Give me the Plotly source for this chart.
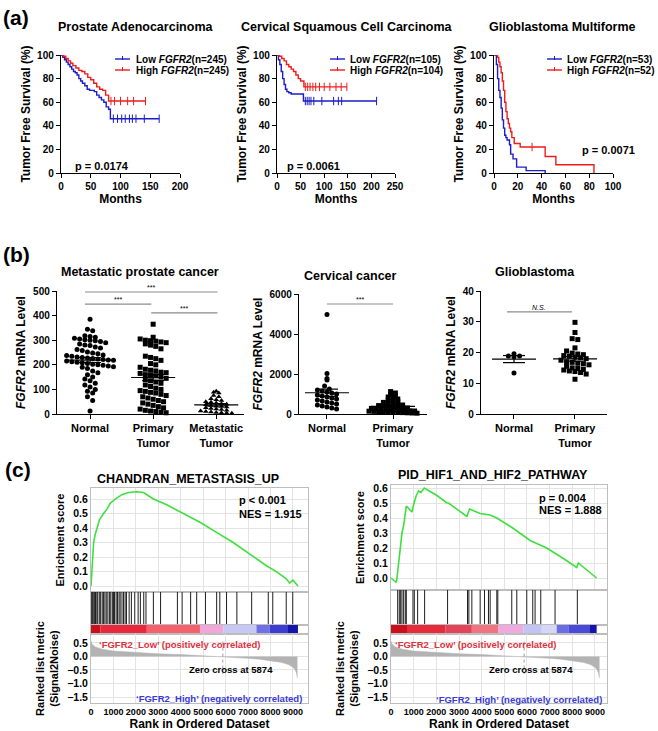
import numpy as np
import plotly.graph_objects as go

W, H = 658, 731
FONT = "Liberation Sans, Arial, Helvetica, sans-serif"
BLUE = "#1c1cc8"
RED = "#ee1c1c"

# ---------------- (a) Kaplan-Meier data ----------------
km_titles = ["Prostate Adenocarcinoma", "Cervical Squamous Cell Carcinoma", "Glioblastoma Multiforme"]
km_pvalues = ["p = 0.0174", "p = 0.0061", "p = 0.0071"]
km_low_n = [245, 105, 53]
km_high_n = [245, 104, 52]

prad_low_t = [0, 3, 6, 9, 12, 15, 18, 21, 24, 27, 30, 33, 36, 40, 44, 48, 52, 56, 60, 64, 68, 72, 76, 80, 83, 165]
prad_low_s = [100, 98, 96, 94, 92, 90, 88, 86, 85, 83, 80, 78, 76, 74, 71, 70, 70, 69, 66, 64, 62, 60, 56, 54, 46, 46]
prad_low_cens = [88, 95, 102, 108, 115, 120, 126, 140, 165]
prad_high_t = [0, 4, 8, 12, 16, 20, 25, 30, 35, 40, 45, 50, 55, 60, 65, 70, 75, 80, 142]
prad_high_s = [100, 99, 97, 95, 93, 91, 89, 87, 86, 84, 81, 79, 76, 73, 71, 70, 66, 61, 61]
prad_high_cens = [84, 90, 100, 112, 122, 142]

cesc_low_t = [0, 3, 6, 9, 12, 15, 18, 21, 25, 30, 40, 56, 211]
cesc_low_s = [100, 96, 92, 86, 80, 75, 71, 69, 68, 67, 67, 61, 61]
cesc_low_cens = [60, 64, 68, 72, 78, 95, 120, 130, 137, 211]
cesc_high_t = [0, 5, 10, 15, 20, 25, 30, 35, 40, 45, 50, 57, 148]
cesc_high_s = [100, 99, 97, 95, 92, 90, 88, 86, 83, 80, 78, 73, 73]
cesc_high_cens = [60, 65, 70, 76, 82, 90, 100, 112, 125, 136, 148]

gbm_low_t = [0, 2, 3, 4, 5, 6, 7, 8, 9, 10, 11, 13, 14, 16, 19, 27, 43]
gbm_low_s = [100, 92, 80, 70, 64, 55, 45, 38, 32, 30, 28, 24, 16, 12, 5, 2, 0]
gbm_low_cens = []
gbm_high_t = [0, 3, 4, 5, 6, 7, 8, 9, 10, 11, 12, 13, 14, 15, 17, 22, 43, 52, 84]
gbm_high_s = [100, 98, 94, 90, 85, 78, 70, 60, 52, 46, 42, 38, 35, 30, 25, 22, 14, 7, 0]
gbm_high_cens = [32]

# ---------------- (b) mRNA scatter data ----------------
prost_normal = [385, 345, 338, 318, 315, 312, 308, 305, 302, 300, 298, 295, 290, 285, 280, 278, 272, 268, 262, 258,
                252, 248, 245, 240, 238, 235, 232, 230, 228, 226, 224, 222, 220, 218, 215, 212, 210, 208, 205, 202,
                200, 198, 195, 192, 190, 185, 175, 168, 160, 150, 142, 135, 125, 118, 110, 100, 92, 85, 70, 55, 12]
prost_primary = [365, 312, 305, 300, 298, 296, 293, 290, 285, 280, 275, 265, 235, 230, 225, 218, 205, 200, 190, 182,
                 178, 175, 170, 168, 165, 160, 158, 155, 150, 145, 140, 135, 130, 125, 118, 112, 105, 100, 95, 92,
                 88, 85, 80, 75, 70, 65, 60, 55, 50, 45, 40, 35, 30, 25, 20, 15, 12, 10, 8, 5]
prost_metastatic = [92, 88, 85, 75, 70, 62, 58, 55, 50, 48, 45, 42, 40, 38, 35, 32, 30, 28, 25, 22,
                    20, 18, 15, 12, 10, 8, 6, 5, 4, 3]
cerv_normal = [4980, 2020, 1780, 1700, 1400, 1250, 1200, 1150, 1100, 1050, 1000, 950, 900, 850, 800, 750, 700,
               650, 600, 550, 500, 450, 400, 350, 300, 250]
cerv_primary = [1120, 1050, 980, 900, 850, 800, 750, 700, 650, 620, 580, 550, 520, 480, 450, 420, 400, 380, 360,
                340, 320, 300, 280, 260, 240, 220, 200, 190, 180, 170, 160, 150, 140, 130, 120, 110, 100, 90, 80,
                70, 60, 50, 40]
glio_normal = [19.6, 18.9, 18.6, 18.9, 13.3]
glio_primary = [29.8, 26.5, 24.5, 24.2, 21.5, 20.5, 19.8, 19.5, 19.3, 19.0, 18.8, 18.5, 18.3, 18.0, 17.5, 17.0,
                16.8, 16.5, 16.3, 16.0, 15.5, 15.0, 14.8, 14.5, 14.3, 14.0, 13.8, 13.5, 13.0, 11.3]

# ---------------- (c) GSEA data ----------------
gsea_titles = ["CHANDRAN_METASTASIS_UP", "PID_HIF1_AND_HIF2_PATHWAY"]
gsea_p = ["p < 0.001", "p = 0.004"]
gsea_nes = ["NES = 1.915", "NES = 1.888"]
chan_rank = [0, 30, 59, 118, 178, 266, 385, 562, 710, 858, 1080, 1377, 1673, 2043, 2339, 2783, 3375, 4115, 4855,
             5595, 6336, 7076, 7816, 8260, 8704, 8852, 9000, 9222]
chan_es = [0, 0.08, 0.2, 0.3, 0.35, 0.4, 0.46, 0.5, 0.53, 0.57, 0.6, 0.63, 0.645, 0.65, 0.645, 0.6, 0.56, 0.5, 0.44,
           0.37, 0.3, 0.22, 0.14, 0.1, 0.05, 0.02, 0.04, 0.0]
chan_hits = [15, 60, 100, 150, 200, 260, 300, 370, 430, 500, 560, 620, 680, 750, 820, 880, 950, 1000, 1050, 1120,
             1180, 1250, 1300, 1380, 1450, 1520, 1580, 1700, 1800, 1950, 2100, 2200, 2350, 2450, 2780, 3100, 3850,
             4060, 4440, 4710, 5100, 5600, 5740, 6040, 6500, 7160, 7900, 8100, 8700, 8990]
chan_bar_edges = [0, 414, 2487, 4855, 5891, 7372, 7964, 8778, 9222]
chan_bar_colors = ["#c8101c", "#e8283c", "#f4606c", "#f0a8d8", "#c8c8f4", "#7070e4", "#3c3cd0", "#1414a8"]

hif_rank = [0, 235, 264, 294, 338, 411, 484, 558, 675, 925, 998, 1116, 1219, 1321, 1468, 2026, 2467, 2540, 3347,
            3465, 3935, 4375, 4669, 5403, 6137, 6871, 7605, 8192, 8266, 9073]
hif_es = [0.0, -0.03, 0.0, 0.05, 0.12, 0.2, 0.3, 0.35, 0.48, 0.44, 0.49, 0.55, 0.58, 0.57, 0.6, 0.55, 0.5, 0.5,
          0.41, 0.46, 0.43, 0.42, 0.4, 0.33, 0.25, 0.2, 0.13, 0.07, 0.1, 0.0]
hif_hits = [294, 367, 426, 484, 558, 631, 675, 969, 1028, 1175, 1483, 2496, 3376, 3435, 3567, 3934, 4125, 4301,
            4375, 4669, 4713, 5329, 5550, 5990, 6254, 6357, 6607, 7238, 8221]
hif_bar_edges = [0, 705, 2393, 3567, 4742, 5843, 6651, 7311, 7825, 8779, 9073]
hif_bar_colors = ["#c8101c", "#e62c3c", "#e44458", "#f07480", "#eeaadc", "#c4c4f4", "#d6d6f8", "#6c6ce4",
                  "#4a4ad8", "#1414a8"]

metric_rank = [0, 50, 200, 500, 1000, 1500, 2000, 3000, 4000, 5000, 5874, 6500, 7000, 7500, 8000, 8500, 8800,
               9000, 9100, 9150, 9200]
metric_val = [0.58, 0.45, 0.35, 0.27, 0.2, 0.17, 0.14, 0.1, 0.07, 0.03, 0.0, -0.04, -0.07, -0.1, -0.15, -0.22,
              -0.3, -0.4, -0.5, -0.6, -0.8]
zero_cross = 5874

# ====================================================================
fig = go.Figure()
layout = {}


def refs(n):
    return ("x" if n == 1 else f"x{n}"), ("y" if n == 1 else f"y{n}")


def set_axes(n, xd, yd, xr, yr, xkw, ykw):
    xr_, yr_ = refs(n)
    xn = "xaxis" if n == 1 else f"xaxis{n}"
    yn = "yaxis" if n == 1 else f"yaxis{n}"
    layout[xn] = dict(domain=[xd[0] / W, xd[1] / W], range=xr, anchor=yr_, automargin=False, tickangle=0, **xkw)
    layout[yn] = dict(domain=[1 - yd[1] / H, 1 - yd[0] / H], range=yr, anchor=xr_, automargin=False, **ykw)


def bfont(size, color="black"):
    return dict(family=FONT, size=size, color=color, weight="bold")


annotations = []
shapes = []


def ann(x, y, text, size, xanchor="center", yanchor="middle", color="black", xref="paper", yref="paper",
        angle=0, bold=True):
    if xref == "paper":
        x = x / W
    if yref == "paper":
        y = 1 - y / H
    annotations.append(dict(x=x, y=y, xref=xref, yref=yref, text=text, showarrow=False,
                            xanchor=xanchor, yanchor=yanchor, textangle=angle,
                            font=bfont(size, color) if bold else dict(family=FONT, size=size, color=color)))


axis_black = dict(showline=True, linecolor="black", linewidth=1.4, ticks="outside", ticklen=4, tickwidth=1.4,
                  tickcolor="black", showgrid=False, zeroline=False, tickfont=bfont(10))

# ---------------- (a) ----------------
km_sets = [
    (prad_low_t, prad_low_s, prad_low_cens, prad_high_t, prad_high_s, prad_high_cens),
    (cesc_low_t, cesc_low_s, cesc_low_cens, cesc_high_t, cesc_high_s, cesc_high_cens),
    (gbm_low_t, gbm_low_s, gbm_low_cens, gbm_high_t, gbm_high_s, gbm_high_cens),
]
km_xdom = [(61, 180), (277, 395), (494, 613)]
km_xrange = [[0, 200], [0, 250], [0, 100]]
km_dtick = [50, 50, 20]
km_title_x = [135, 347, 562]
km_leg = [(115, 134), (330, 348), (547, 565)]
km_p_pos = [(73, 166, "left"), (285, 166, "left"), (580, 150, "left")]


def surv_at(t, s, c):
    t = np.asarray(t)
    i = np.searchsorted(t, c, side="right") - 1
    return s[i]


for k in range(3):
    n = k + 1
    lt, ls, lc, ht, hs, hc = km_sets[k]
    xr_, yr_ = refs(n)
    for tt, ss, cc, col in [(lt, ls, lc, BLUE), (ht, hs, hc, RED)]:
        fig.add_trace(go.Scatter(x=tt, y=ss, mode="lines", line=dict(color=col, width=1.4, shape="hv"),
                                 xaxis=xr_, yaxis=yr_, showlegend=False, cliponaxis=False, hoverinfo="skip"))
        if cc:
            fig.add_trace(go.Scatter(x=cc, y=[surv_at(tt, ss, c) for c in cc], mode="markers",
                                     marker=dict(symbol="line-ns", size=6, line=dict(color=col, width=1)),
                                     xaxis=xr_, yaxis=yr_, showlegend=False, cliponaxis=False, hoverinfo="skip"))
    xkw = dict(axis_black, dtick=km_dtick[k], title=dict(text="Months", font=bfont(12), standoff=3))
    ykw = dict(axis_black, dtick=20, title=dict(text="Tumor Free Survival (%)", font=bfont(12), standoff=3))
    set_axes(n, km_xdom[k], (55, 173), km_xrange[k], [0, 100], xkw, ykw)
    ann(km_title_x[k], 27, km_titles[k], 12.5)
    lx0, tx = km_leg[k]
    for yy, col, lab, nn in [(59, BLUE, "Low", km_low_n[k]), (70, RED, "High", km_high_n[k])]:
        shapes.append(dict(type="line", xref="paper", yref="paper", x0=lx0 / W, x1=(lx0 + 15) / W,
                           y0=1 - yy / H, y1=1 - yy / H, line=dict(color=col, width=1.4)))
        shapes.append(dict(type="line", xref="paper", yref="paper", x0=(lx0 + 7.5) / W, x1=(lx0 + 7.5) / W,
                           y0=1 - (yy - 3) / H, y1=1 - (yy + 1) / H, line=dict(color=col, width=1)))
        ann(tx, yy, f"{lab} <i>FGFR2</i>(n={nn})", 10, xanchor="left")
    px_, py_, xa = km_p_pos[k]
    ann(px_, py_, km_pvalues[k], 11, xanchor=xa)

ann(1, 4, "(a)", 21, xanchor="left", yanchor="top")
ann(1, 241, "(b)", 21, xanchor="left", yanchor="top")
ann(3, 456, "(c)", 21, xanchor="left", yanchor="top")

# ---------------- (b) ----------------


def swarm(vals, center, bin_w, dx):
    v = np.asarray(vals, dtype=float)
    bins = np.floor(v / bin_w)
    xs = np.zeros(len(v))
    for b in np.unique(bins):
        idx = np.where(bins == b)[0]
        m = len(idx)
        xs[idx] = center + (np.arange(m) - (m - 1) / 2) * dx
    return xs


b_panels = [
    dict(title="Metastatic prostate cancer", tx=140, ty=272, xd=(57, 244), yd=(291, 414), yr=[0, 500], dtick=100,
         xr=[0.476, 3.44], groups=[prost_normal, prost_primary, prost_metastatic],
         symbols=["circle", "square", "triangle-up"], labels=["Normal", "Primary<br>Tumor", "Metastatic<br>Tumor"],
         bins=[24, 24, 13], pxu=63, dxp=5.2,
         brackets=[(0.92, 3.02, 496, "***"), (0.92, 1.97, 447, "***"), (1.97, 3.02, 411, "***")]),
    dict(title="Cervical cancer", tx=350, ty=276, xd=(299, 427), yd=(294, 414), yr=[0, 6000], dtick=2000,
         xr=[0.576, 2.515], groups=[cerv_normal, cerv_primary], symbols=["circle", "square"],
         labels=["Normal", "Primary<br>Tumor"], bins=[250, 150], pxu=66, dxp=4.8,
         brackets=[(1.0, 2.0, 5500, "***")]),
    dict(title="Glioblastoma", tx=535, ty=272, xd=(481, 607), yd=(291, 414), yr=[0, 40], dtick=10,
         xr=[0.459, 2.525], groups=[glio_normal, glio_primary], symbols=["circle", "square"],
         labels=["Normal", "Primary<br>Tumor"], bins=[1.6, 1.6], pxu=61, dxp=5.6,
         brackets=[(0.885, 1.95, 33.2, "<i>N.S.</i>")]),
]

for k, P in enumerate(b_panels):
    n = 4 + k
    xr_, yr_ = refs(n)
    ng = len(P["groups"])
    for g, vals in enumerate(P["groups"]):
        c = g + 1
        dx = P["dxp"] / P["pxu"]
        xs = swarm(vals, c, P["bins"][g], dx)
        fig.add_trace(go.Scatter(x=xs, y=vals, mode="markers",
                                 marker=dict(symbol=P["symbols"][g], size=5, color="black", line=dict(width=0)),
                                 xaxis=xr_, yaxis=yr_, showlegend=False, cliponaxis=False, hoverinfo="skip"))
        v = np.asarray(vals, dtype=float)
        mean = v.mean()
        sem = v.std(ddof=1) / np.sqrt(len(v))
        hw = 22 / P["pxu"]
        cw = 11 / P["pxu"]
        lx = [c - hw, c + hw, None, c, c, None, c - cw, c + cw, None, c - cw, c + cw]
        ly = [mean, mean, None, mean - sem, mean + sem, None, mean - sem, mean - sem, None, mean + sem, mean + sem]
        fig.add_trace(go.Scatter(x=lx, y=ly, mode="lines", line=dict(color="black", width=1.2),
                                 xaxis=xr_, yaxis=yr_, showlegend=False, cliponaxis=False, hoverinfo="skip"))
    for (x0, x1, yv, txt) in P["brackets"]:
        shapes.append(dict(type="line", xref=xr_, yref=yr_, x0=x0, x1=x1, y0=yv, y1=yv,
                           line=dict(color="#8c8c8c", width=1.2)))
        annotations.append(dict(x=(x0 + x1) / 2, y=yv, xref=xr_, yref=yr_, text=txt, showarrow=False,
                                yanchor="bottom", yshift=-1, font=dict(family=FONT, size=7, color="black")))
    xkw = dict(axis_black, tickvals=list(range(1, ng + 1)), ticktext=P["labels"], tickfont=bfont(11))
    ykw = dict(axis_black, dtick=P["dtick"],
               title=dict(text="<i>FGFR2</i> mRNA Level", font=bfont(12), standoff=4))
    set_axes(n, P["xd"], P["yd"], P["xr"], P["yr"], xkw, ykw)
    ann(P["tx"], P["ty"], P["title"], 12.5)

# ---------------- (c) ----------------
GRID = "#e4e4e4"
BOX = "#bdbdbd"
box_axis = dict(showline=True, linecolor=BOX, linewidth=1, mirror=True, zeroline=False)

g_panels = [
    dict(xd=(91, 308), xr=[0, 9670], es_y=(488, 592), es_r=[-0.041, 0.676], rank=chan_rank, es=chan_es,
         hits=chan_hits, edges=chan_bar_edges, colors=chan_bar_colors, tx=188, ty=479,
         p_pos=(6500, 0.595, 0.497), low=(266, 0.45), zc=(6240, -0.5), high=(9474, -1.55)),
    dict(xd=(391, 607), xr=[0, 9530], es_y=(485, 590), es_r=[-0.08, 0.62], rank=hif_rank, es=hif_es,
         hits=hif_hits, edges=hif_bar_edges, colors=hif_bar_colors, tx=493, ty=475,
         p_pos=(6440, 0.533, 0.453), low=(88, 0.45), zc=(6170, -0.5), high=(9396, -1.58)),
]

for k, G in enumerate(g_panels):
    base = 7 + 4 * k
    n_es, n_hit, n_bar, n_rank = base, base + 1, base + 2, base + 3
    # ES
    xr_, yr_ = refs(n_es)
    fig.add_trace(go.Scatter(x=G["rank"], y=G["es"], mode="lines", line=dict(color="#3ee03e", width=1.6),
                             xaxis=xr_, yaxis=yr_, showlegend=False, hoverinfo="skip"))
    xkw = dict(box_axis, showticklabels=False, ticks="", showgrid=True, gridcolor=GRID, dtick=1000)
    ykw = dict(box_axis, showgrid=True, gridcolor=GRID, dtick=0.1, tickformat=".1f", ticks="",
               tickfont=bfont(10.5), title=dict(text="Enrichment score", font=bfont(11), standoff=6))
    set_axes(n_es, G["xd"], G["es_y"], G["xr"], G["es_r"], xkw, ykw)
    annotations.append(dict(x=G["p_pos"][0], y=G["p_pos"][1], xref=xr_, yref=yr_, text=gsea_p[k],
                            showarrow=False, xanchor="left", font=bfont(11)))
    annotations.append(dict(x=G["p_pos"][0], y=G["p_pos"][2], xref=xr_, yref=yr_, text=gsea_nes[k],
                            showarrow=False, xanchor="left", font=bfont(11)))
    ann(G["tx"], G["ty"], gsea_titles[k], 12.5)
    # hits
    xr_, yr_ = refs(n_hit)
    hx, hy = [], []
    for h in G["hits"]:
        hx += [h, h, None]
        hy += [0, 1, None]
    fig.add_trace(go.Scatter(x=hx, y=hy, mode="lines", line=dict(color="#1e1e1e", width=1),
                             xaxis=xr_, yaxis=yr_, showlegend=False, hoverinfo="skip"))
    set_axes(n_hit, G["xd"], (G["es_y"][1], 625), G["xr"], [0, 1],
             dict(box_axis, showticklabels=False, ticks="", showgrid=False),
             dict(box_axis, showticklabels=False, ticks="", showgrid=False))
    # colour bar
    xr_, yr_ = refs(n_bar)
    e = np.asarray(G["edges"], dtype=float)
    fig.add_trace(go.Bar(x=(e[:-1] + e[1:]) / 2, y=[1] * (len(e) - 1), width=e[1:] - e[:-1],
                         marker=dict(color=G["colors"], line=dict(width=0)),
                         xaxis=xr_, yaxis=yr_, showlegend=False, hoverinfo="skip"))
    set_axes(n_bar, G["xd"], (625, 634), G["xr"], [0, 1],
             dict(box_axis, showticklabels=False, ticks="", showgrid=False),
             dict(box_axis, showticklabels=False, ticks="", showgrid=False))
    # ranked list metric
    xr_, yr_ = refs(n_rank)
    fig.add_trace(go.Scatter(x=metric_rank, y=metric_val, mode="lines", fill="tozeroy", fillcolor="#b3b3b3",
                             line=dict(color="#b3b3b3", width=0.5),
                             xaxis=xr_, yaxis=yr_, showlegend=False, hoverinfo="skip"))
    shapes.append(dict(type="line", xref=xr_, yref=yr_, x0=zero_cross, x1=zero_cross, y0=0.55, y1=-0.65,
                       line=dict(color="#a0a0a0", width=1, dash="dot")))
    xkw = dict(box_axis, showgrid=True, gridcolor=GRID, dtick=1000, tick0=0, ticks="", tickfont=bfont(9),
               title=dict(text="Rank in Ordered Dataset", font=bfont(12), standoff=3))
    ykw = dict(box_axis, showgrid=True, gridcolor=GRID, tickvals=[0.5, 0, -0.5, -1, -1.5], tickformat=".1f",
               ticks="", tickfont=bfont(10.5),
               title=dict(text="Ranked list metric<br>(Signal2Noise)", font=bfont(11), standoff=6))
    set_axes(n_rank, G["xd"], (634, 703), G["xr"], [-1.72, 0.83], xkw, ykw)
    annotations.append(dict(x=G["low"][0], y=G["low"][1], xref=xr_, yref=yr_,
                            text="\u2018FGFR2_Low\u2019 (positively correlated)", showarrow=False,
                            xanchor="left", font=bfont(9.5, "#e0303c")))
    annotations.append(dict(x=G["zc"][0], y=G["zc"][1], xref=xr_, yref=yr_,
                            text=f"Zero cross at {zero_cross}", showarrow=False,
                            xanchor="center", font=bfont(9.5)))
    annotations.append(dict(x=G["high"][0], y=G["high"][1], xref=xr_, yref=yr_,
                            text="\u2018FGFR2_High\u2019 (negatively correlated)", showarrow=False,
                            xanchor="right", font=bfont(9.5, "#3a3ad8")))

layout.update(dict(template="none", width=W, height=H, autosize=False, margin=dict(l=0, r=0, t=0, b=0),
                   paper_bgcolor="white", plot_bgcolor="white", showlegend=False,
                   annotations=annotations, shapes=shapes, font=dict(family=FONT, color="black")))
fig.update_layout(**layout)
fig.write_html("out.html", config={"displayModeBar": False},
               post_script="document.body.style.margin='0';document.body.style.padding='0';")
